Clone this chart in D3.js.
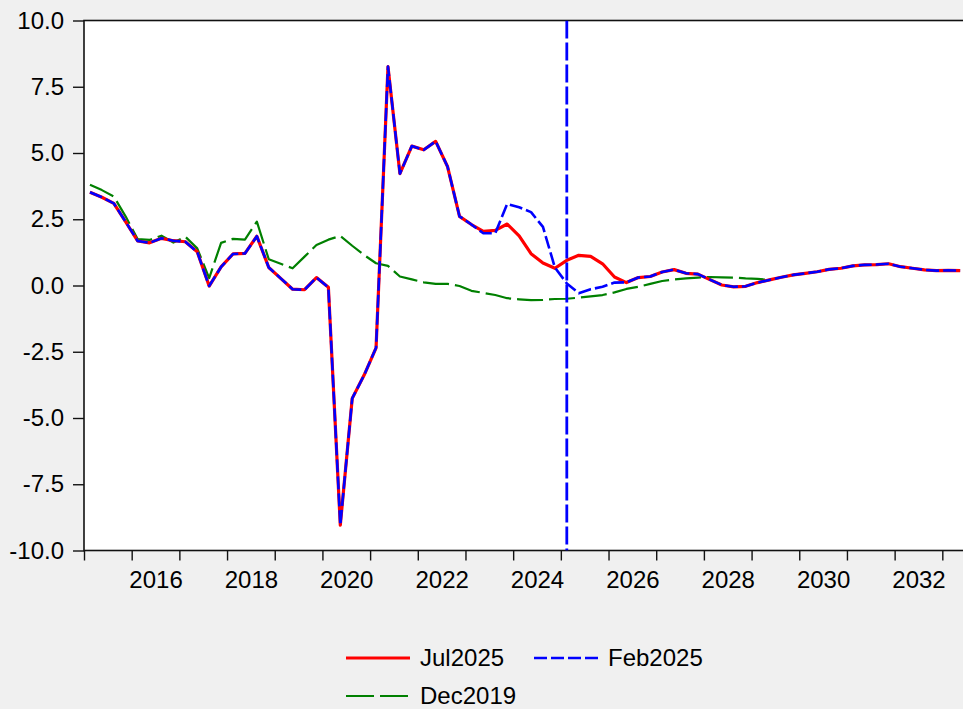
<!DOCTYPE html>
<meta charset="utf-8">
<style>
  body { margin: 0; background: #f0f0f0; }
  text { font-family: "Liberation Sans", Arial, sans-serif; }
</style>

<div id="chart"></div>

<script src="https://cdn.jsdelivr.net/npm/d3@7"></script>
<script>

// quarterly data, first observation 2015Q1
var startYear = 2015;

var jul2025 = [3.52, 3.33, 3.10, 2.40, 1.68, 1.61, 1.78, 1.69, 1.65, 1.27,
  -0.02, 0.70, 1.19, 1.21, 1.86, 0.68, 0.27, -0.14, -0.16, 0.30,
  -0.07, -9.04, -4.26, -3.38, -2.35, 8.26, 4.22, 5.26, 5.12, 5.44,
  4.48, 2.61, 2.30, 2.04, 2.08, 2.32, 1.87, 1.20, 0.85, 0.65,
  0.95, 1.14, 1.10, 0.82, 0.32, 0.11, 0.30, 0.34, 0.51, 0.60,
  0.46, 0.43, 0.22, 0.02, -0.05, -0.03, 0.11, 0.21, 0.31, 0.40,
  0.46, 0.52, 0.61, 0.65, 0.74, 0.78, 0.79, 0.82, 0.71, 0.65,
  0.59, 0.56, 0.57, 0.56];

var feb2025 = [3.52, 3.33, 3.10, 2.40, 1.68, 1.61, 1.78, 1.69, 1.65, 1.27,
  -0.02, 0.70, 1.19, 1.21, 1.86, 0.68, 0.27, -0.14, -0.16, 0.30,
  -0.07, -9.04, -4.26, -3.38, -2.35, 8.26, 4.22, 5.26, 5.12, 5.44,
  4.48, 2.61, 2.30, 1.97, 1.97, 3.08, 2.95, 2.77, 2.21, 0.68,
  0.08, -0.29, -0.14, -0.05, 0.11, 0.12, 0.30, 0.34, 0.51, 0.60,
  0.46, 0.43, 0.22, 0.02, -0.05, -0.03, 0.11, 0.21, 0.31, 0.40,
  0.46, 0.52, 0.61, 0.65, 0.74, 0.78, 0.79, 0.82, 0.71, 0.65,
  0.59, 0.56, 0.57, 0.56];

var dec2019 = [3.80, 3.60, 3.36, 2.60, 1.75, 1.72, 1.88, 1.62, 1.84, 1.40,
  0.28, 1.61, 1.76, 1.73, 2.41, 0.99, 0.82, 0.65, 1.09, 1.53,
  1.73, 1.87, 1.50, 1.15, 0.84, 0.74, 0.34, 0.23, 0.12, 0.06,
  0.06, -0.02, -0.20, -0.28, -0.36, -0.48, -0.52, -0.55, -0.54, -0.51,
  -0.50, -0.46, -0.41, -0.36, -0.26, -0.13, -0.05, 0.06, 0.17, 0.23,
  0.27, 0.30, 0.32, 0.31, 0.30, 0.27, 0.25, 0.21];

var yTicks = [-10, -7.5, -5, -2.5, 0, 2.5, 5, 7.5, 10];
var yearTicks = d3.range(2015, 2034);
var yearLabels = [2016, 2018, 2020, 2022, 2024, 2026, 2028, 2030, 2032];
var markerYear = 2025; // vertical line at 2025Q1

var width = 963, height = 709;
var plotBox = {left: 84, top: 20.5, bottom: 550.5, right: 990};

var svg = d3.select("#chart")
  .append("svg")
    .attr("width", width)
    .attr("height", height);

var x = d3.scaleLinear()
  .domain([2015, 2034])
  .range([plotBox.left, plotBox.right]);

var y = d3.scaleLinear()
  .domain([-10, 10])
  .range([plotBox.bottom, plotBox.top]);

// plot area
svg.append("rect")
  .attr("x", plotBox.left).attr("y", plotBox.top)
  .attr("width", plotBox.right - plotBox.left)
  .attr("height", plotBox.bottom - plotBox.top)
  .attr("fill", "#fff")
  .attr("stroke", "#111")
  .attr("stroke-width", 1.6);

svg.append("clipPath").attr("id", "clip")
  .append("rect")
    .attr("x", plotBox.left).attr("y", plotBox.top)
    .attr("width", plotBox.right - plotBox.left)
    .attr("height", plotBox.bottom - plotBox.top);

// Y axis
var yAxis = svg.append("g")
  .attr("transform", "translate(" + plotBox.left + ",0)")
  .call(d3.axisLeft(y)
    .tickValues(yTicks)
    .tickSize(11)
    .tickPadding(9)
    .tickFormat(function(d) { return d.toFixed(1); }));
yAxis.select(".domain").remove();

// X axis: year ticks, labels centred in the year
var xAxis = svg.append("g")
  .attr("transform", "translate(0," + plotBox.bottom + ")")
  .call(d3.axisBottom(x)
    .tickValues(yearTicks)
    .tickSize(10)
    .tickFormat(""));
xAxis.select(".domain").remove();

var xLabels = svg.append("g")
  .attr("transform", "translate(0," + plotBox.bottom + ")")
  .call(d3.axisBottom(x)
    .tickValues(yearLabels.map(function(d) { return d + 0.5; }))
    .tickSize(0)
    .tickPadding(20)
    .tickFormat(function(d) { return Math.floor(d); }));
xLabels.select(".domain").remove();

svg.selectAll(".tick line").attr("stroke", "#111").attr("stroke-width", 1.4);
svg.selectAll(".tick text")
  .attr("fill", "#000")
  .style("font-size", "24px")
  .style("font-family", "'Liberation Sans', Arial, sans-serif");

// lines
var line = d3.line()
  .defined(function(d) { return d != null; })
  .x(function(d, i) { return x(startYear + (i + 0.5) / 4); })
  .y(function(d) { return y(d); });

var plot = svg.append("g").attr("clip-path", "url(#clip)");

var series = [
  {name: "Dec2019", values: dec2019, color: "#008000", width: 2.2, dash: "26,6"},
  {name: "Jul2025", values: jul2025, color: "#ff0000", width: 3.2, dash: null},
  {name: "Feb2025", values: feb2025, color: "#0000ff", width: 2.6, dash: "13,4"}
];

series.forEach(function(s) {
  plot.append("path")
    .datum(s.values)
    .attr("fill", "none")
    .attr("stroke", s.color)
    .attr("stroke-width", s.width)
    .attr("stroke-dasharray", s.dash)
    .attr("stroke-linejoin", "round")
    .attr("d", line);
});

// vertical marker at 2025Q1
plot.append("line")
  .attr("x1", x(markerYear + 0.125)).attr("x2", x(markerYear + 0.125))
  .attr("y1", plotBox.top).attr("y2", plotBox.bottom)
  .attr("stroke", "#0000ff")
  .attr("stroke-width", 2.8)
  .attr("stroke-dasharray", "18,4");

// legend
var legendItems = [
  {name: "Jul2025", color: "#ff0000", width: 3.2, dash: null, x: 346, y: 658},
  {name: "Feb2025", color: "#0000ff", width: 2.6, dash: "13,4", x: 534, y: 658},
  {name: "Dec2019", color: "#008000", width: 2.2, dash: "28,6", x: 346, y: 696}
];

var legend = svg.append("g");
legendItems.forEach(function(d) {
  legend.append("line")
    .attr("x1", d.x).attr("x2", d.x + 64)
    .attr("y1", d.y).attr("y2", d.y)
    .attr("stroke", d.color)
    .attr("stroke-width", d.width)
    .attr("stroke-dasharray", d.dash);
  legend.append("text")
    .attr("x", d.x + 74)
    .attr("y", d.y + 7.5)
    .style("font-size", "24px")
    .text(d.name);
});

</script>
